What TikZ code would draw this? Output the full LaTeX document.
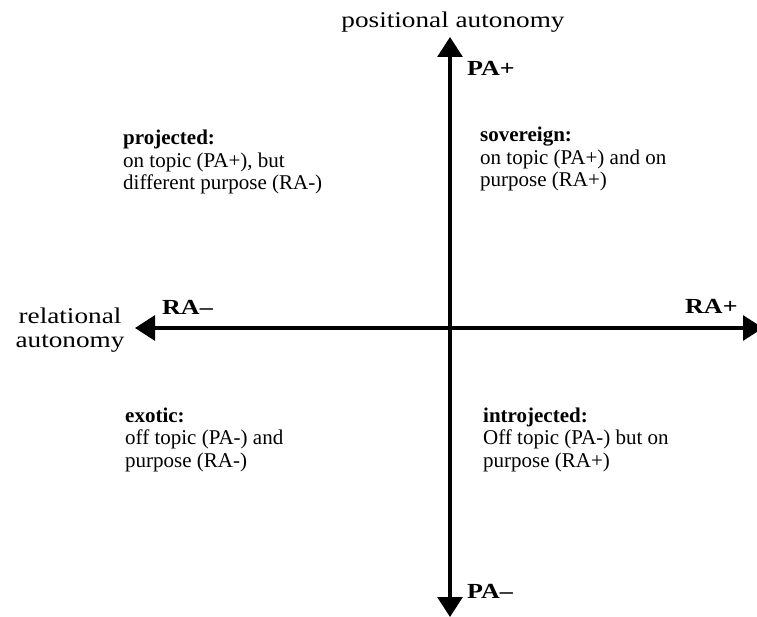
\documentclass[tikz,border=0pt]{standalone}
\usepackage{fontspec}
\setmainfont{Liberation Serif}
\newfontfamily\widefont[FakeStretch=1.21]{Liberation Serif}
\usepackage{tikz}
\usetikzlibrary{arrows.meta}

\begin{document}
\begin{tikzpicture}[
    x=1pt, y=-1pt,
    axis/.style={line width=3.1pt, {Triangle[width=25pt, length=20pt]}-{Triangle[width=25pt, length=20pt]}},
    title/.style={font=\widefont\fontsize{22.5}{24}\selectfont, align=center, inner sep=0pt, anchor=base},
    pole/.style={font=\widefont\bfseries\fontsize{21.5}{24}\selectfont, inner sep=0pt, anchor=base west},
    quad/.style={font=\fontsize{21}{22.5}\selectfont, align=left, inner sep=0pt, anchor=base west},
  ]
    \useasboundingbox (0,0) rectangle (757,617);

    % Axis ends
    \coordinate (paplus)  at (450,37);
    \coordinate (paminus) at (450,617);
    \coordinate (raminus) at (135,328);
    \coordinate (raplus)  at (763,328);

    % Axes
    \draw[axis] (paminus) -- (paplus);
    \draw[axis] (raminus) -- (raplus);

    % Axis titles (base = last line)
    \node[title] (postitle) at (453,28) {positional autonomy};
    \node[title] (reltitle) at (70,347) {relational\\autonomy};

    % Poles
    \node[pole] (palabel) at (467,76)  {PA+};
    \node[pole] (pmlabel) at (467,598) {PA–};
    \node[pole] (rmlabel) at (162,315) {RA–};
    \node[pole] (rplabel) at (685,313) {RA+};

    % Quadrants
    \node[quad] (projected)   at (123,190) {\textbf{projected:}\\on topic (PA+), but\\different purpose (RA-)};
    \node[quad] (sovereign)   at (480,187) {\textbf{sovereign:}\\on topic (PA+) and on\\purpose (RA+)};
    \node[quad] (exotic)      at (125,467) {\textbf{exotic:}\\off topic (PA-) and\\purpose (RA-)};
    \node[quad] (introjected) at (483,467) {\textbf{introjected:}\\Off topic (PA-) but on\\purpose (RA+)};
\end{tikzpicture}
\end{document}
